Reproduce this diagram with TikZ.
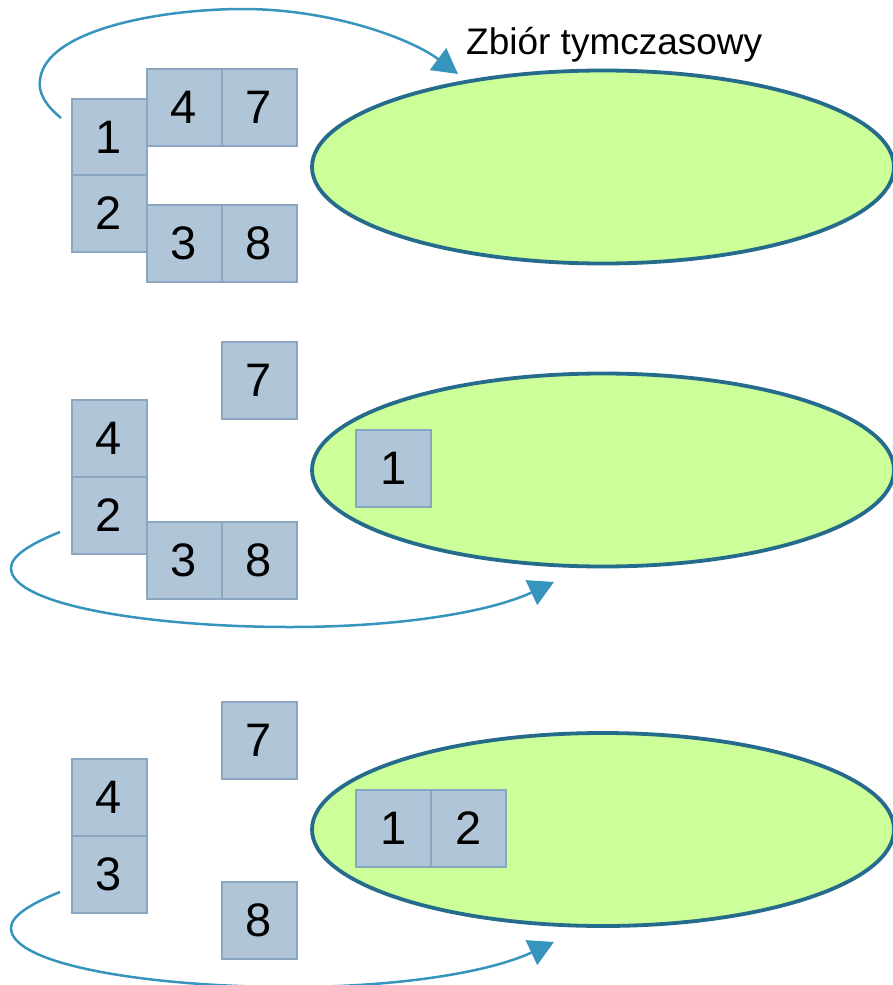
\documentclass[tikz,border=0pt]{standalone}
\usepackage{fontspec}
\setmainfont{Liberation Sans}
\usetikzlibrary{arrows.meta,shapes.geometric}
\definecolor{cellfill}{HTML}{B0C6D8}
\definecolor{celledge}{HTML}{8AA6C1}
\definecolor{ellfill}{HTML}{CCFF99}
\definecolor{elledge}{HTML}{246B8C}
\definecolor{arrcol}{HTML}{3794BC}
\tikzset{
  cell/.style={draw=celledge, fill=cellfill, line width=2pt, minimum width=75pt, minimum height=77pt, inner sep=0pt, font=\fontsize{47}{56}\selectfont},
  tray/.style={ellipse, draw=elledge, fill=ellfill, line width=3.8pt, minimum width=582pt, minimum height=193pt, inner sep=0pt},
  loop/.style={draw=arrcol, line width=2.5pt, -{Triangle[length=25pt,width=27pt]}},
}
\begin{document}
\begin{tikzpicture}[x=1pt,y=-1pt]
\useasboundingbox (0,0) rectangle (892,985);
% row 1
\node[tray] (e1) at (603,167) {};
\node[cell] (a1) at (109,137) {1};
\node[cell] (a2) at (109,213) {2};
\node[cell] (a4) at (184,107) {4};
\node[cell] (a7) at (259,107) {7};
\node[cell] (a3) at (184,243) {3};
\node[cell] (a8) at (259,243) {8};
\node[anchor=base west, inner sep=0pt, font=\fontsize{37}{44}\selectfont] (lbl) at (466,54) {Zbiór tymczasowy};
\coordinate (s1) at (61,118);
\coordinate (t1) at (458,74);
\draw[loop] (s1) .. controls (45,105) and (38,92) .. (40,80)
  .. controls (45,30) and (160,9) .. (243,9)
  .. controls (330,9) and (410,38) .. (t1);
% row 2
\node[tray] (e2) at (603,470) {};
\node[cell] (b7) at (259,380) {7};
\node[cell] (b4) at (109,438) {4};
\node[cell] (b2) at (109,515) {2};
\node[cell] (b3) at (184,560) {3};
\node[cell] (b8) at (259,560) {8};
\node[cell] (b1) at (393.5,468) {1};
\coordinate (s2) at (60,532);
\coordinate (t2) at (554,582);
\draw[loop] (s2) .. controls (30,544) and (11,556) .. (11,568)
  .. controls (11,605) and (150,627) .. (290,627)
  .. controls (400,627) and (490,612) .. (t2);
% row 3
\node[tray] (e3) at (603,829.5) {};
\node[cell] (c7) at (259,740) {7};
\node[cell] (c4) at (109,797) {4};
\node[cell] (c3) at (109,874) {3};
\node[cell] (c8) at (259,920) {8};
\node[cell] (c1) at (393.5,828) {1};
\node[cell] (c2) at (468.5,828) {2};
\coordinate (s3) at (60,892);
\coordinate (t3) at (554,942);
\draw[loop] (s3) .. controls (30,904) and (11,916) .. (11,928)
  .. controls (11,965) and (150,987) .. (290,987)
  .. controls (400,987) and (490,972) .. (t3);
\end{tikzpicture}
\end{document}
